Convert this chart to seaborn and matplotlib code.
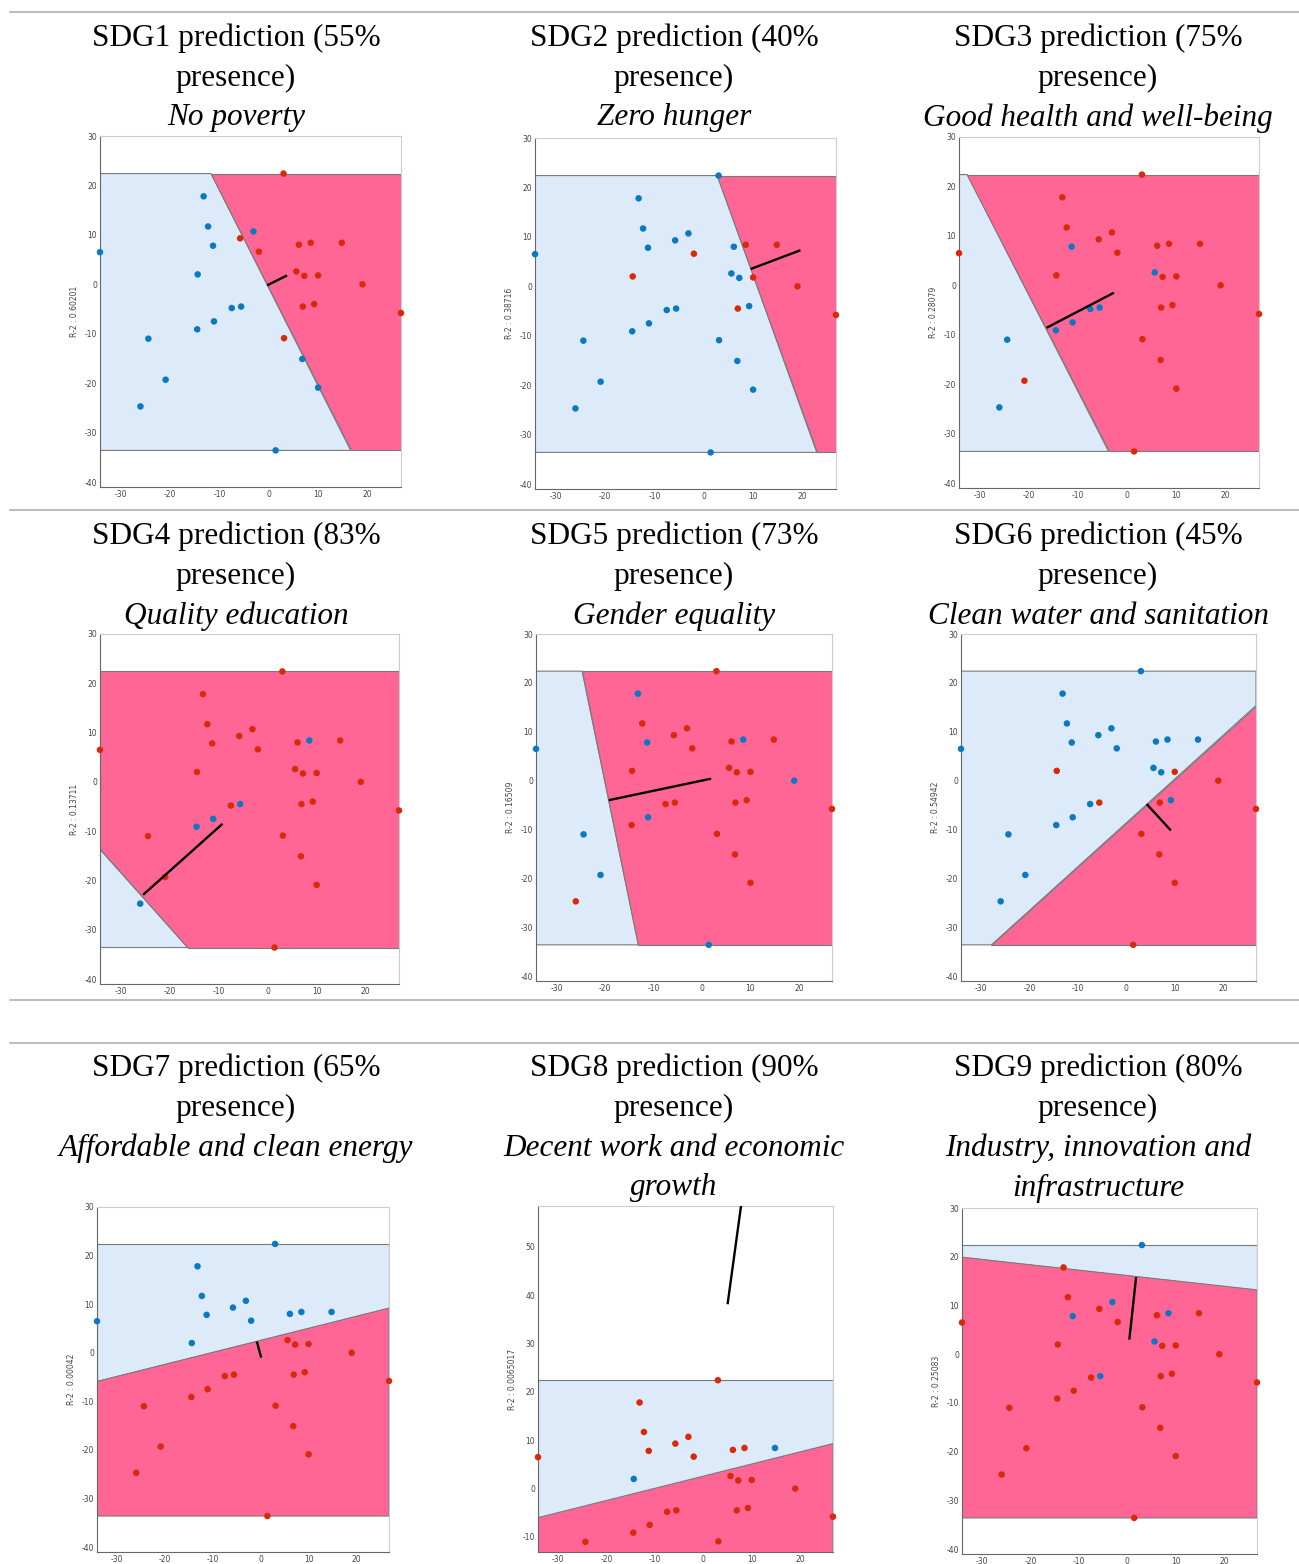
import matplotlib
matplotlib.use("Agg")
import matplotlib.pyplot as plt
import seaborn as sns
import pandas as pd
import numpy as np

sns.set_style("white")
plt.rcParams['font.family'] = ['DejaVu Sans']
plt.rcParams['axes.unicode_minus'] = False

W, H = 1299, 1564

# ---- data -------------------------------------------------------------
point_x = [-34.2, -13.2, -12.3, -11.3, -14.4, -3.1, -5.8, -2.0, 3.0, 6.1,
           8.5, 14.8, 5.6, 7.2, 10.0, 19.0, 6.9, 9.2, 26.8, -5.6,
           -7.5, -11.1, -14.5, -24.4, 3.1, 6.8, 10.0, -20.9, -26.0, 1.4]
point_y = [6.5, 17.8, 11.7, 7.8, 2.0, 10.7, 9.3, 6.6, 22.4, 8.0,
           8.4, 8.4, 2.6, 1.7, 1.8, 0.0, -4.5, -4.0, -5.8, -4.5,
           -4.8, -7.5, -9.1, -11.0, -10.9, -15.1, -20.9, -19.3, -24.7, -33.6]

classes = [
    [0,0,0,0,0,0,1,1,1,1,1,1,1,1,1,1,1,1,1,0,0,0,0,0,1,0,0,0,0,0],
    [0,0,0,0,1,0,0,1,0,0,1,1,0,0,1,1,1,0,1,0,0,0,0,0,0,0,0,0,0,0],
    [1,1,1,0,1,1,1,1,1,1,1,1,0,1,1,1,1,1,1,0,0,0,0,0,1,1,1,1,0,1],
    [1,1,1,1,1,1,1,1,1,1,0,1,1,1,1,1,1,1,1,0,1,0,0,1,1,1,1,1,0,1],
    [0,0,1,0,1,1,1,1,1,1,0,1,1,1,1,0,1,1,1,1,1,0,1,0,1,1,1,0,1,0],
    [0,0,0,0,1,0,0,0,0,0,0,0,0,0,1,1,1,0,1,1,0,0,0,0,1,1,1,0,0,1],
    [0,0,0,0,0,0,0,0,0,0,0,0,1,1,1,1,1,1,1,1,1,1,1,1,1,1,1,1,1,1],
    [1,1,1,1,0,1,1,1,1,1,1,0,1,1,1,1,1,1,1,1,1,1,1,1,1,1,1,1,1,1],
    [1,1,1,0,1,0,1,1,0,1,0,1,0,1,1,1,1,1,1,0,1,1,1,1,1,1,1,1,1,1],
]

boundary_p1 = [(-11.7, 22.4), (2.75, 22.4), (-32.5, 22.4), (-34.2, -13.7), (-24.7, 22.4),
               (-27.9, -33.6), (-34.2, -5.9), (-34.2, -6.0), (-34.2, 19.9)]
boundary_p2 = [(16.6, -33.6), (22.9, -33.6), (-3.8, -33.6), (-16.3, -33.6), (-13.1, -33.6),
               (26.5, 15.1), (26.8, 9.2), (26.8, 9.3), (26.8, 13.2)]
red_ref = [(26, 0), (26, 0), (26, 0), (20, 20), (26, 0), (26, -30), (0, -30), (0, -12), (0, -30)]

normal_p1 = [(-0.3, -0.2), (9.5, 3.5), (-16.4, -8.6), (-25.4, -22.9), (-19.2, -4.0),
             (4.2, -4.8), (-0.8, 2.3), (5.0, 38.1), (0.4, 3.0)]
normal_p2 = [(3.7, 1.8), (19.6, 7.3), (-2.7, -1.5), (-9.2, -8.5), (1.9, 0.4),
             (9.2, -10.2), (0.1, -1.0), (8.0, 60.0), (1.8, 15.8)]

r2_labels = ["R-2 : 0.60201", "R-2 : 0.38716", "R-2 : 0.28079", "R-2 : 0.13711",
             "R-2 : 0.16509", "R-2 : 0.54942", "R-2 : 0.00042", "R-2 : 0.0065017",
             "R-2 : 0.25083"]

title_lines = [
    ["SDG1 prediction (55%", "presence)"],
    ["SDG2 prediction (40%", "presence)"],
    ["SDG3 prediction (75%", "presence)"],
    ["SDG4 prediction (83%", "presence)"],
    ["SDG5 prediction (73%", "presence)"],
    ["SDG6 prediction (45%", "presence)"],
    ["SDG7 prediction (65%", "presence)"],
    ["SDG8 prediction (90%", "presence)"],
    ["SDG9 prediction (80%", "presence)"],
]
goal_lines = [
    ["No poverty"], ["Zero hunger"], ["Good health and well-being"],
    ["Quality education"], ["Gender equality"], ["Clean water and sanitation"],
    ["Affordable and clean energy"], ["Decent work and economic", "growth"],
    ["Industry, innovation and", "infrastructure"],
]

ylims = [(-41, 30)] * 7 + [(-13.1, 58.4)] + [(-41, 30)]
yticks_list = [list(range(-40, 31, 10))] * 7 + [list(range(-10, 51, 10))] + [list(range(-40, 31, 10))]

# ---- layout (pixels) --------------------------------------------------
axes_px = [
    (100, 136, 401, 487), (535, 138, 836, 489), (959, 137, 1259, 488),
    (100, 634, 399, 984), (536, 634, 832, 981), (961, 634, 1256, 981),
    (97, 1207, 389, 1552), (538, 1206, 833, 1552), (962, 1208, 1257, 1554),
]
col_centers = [236, 674, 1098]
row_title_y = [38, 536, 1068]
line_step = 40
hlines_y = [12, 510, 1000, 1043]

PINK = "#FF6696"
LIGHTBLUE = "#DCEAF9"
RED_DOT = "#D82A08"
BLUE_DOT = "#0A78C2"
EDGE = "#7a7a7a"

fig = plt.figure(figsize=(W / 100, H / 100), dpi=100)


def clip_halfplane(poly, p1, p2, sign):
    def f(q):
        return ((p2[0] - p1[0]) * (q[1] - p1[1]) - (p2[1] - p1[1]) * (q[0] - p1[0])) * sign
    out = []
    n = len(poly)
    for i in range(n):
        a, b = poly[i], poly[(i + 1) % n]
        fa, fb = f(a), f(b)
        if fa >= 0:
            out.append(a)
        if (fa >= 0) != (fb >= 0):
            t = fa / (fa - fb)
            out.append((a[0] + t * (b[0] - a[0]), a[1] + t * (b[1] - a[1])))
    return out


xmin, xmax = min(point_x), max(point_x)
ymin, ymax = min(point_y), max(point_y)
rect = [(xmin, ymin), (xmax, ymin), (xmax, ymax), (xmin, ymax)]

for k in range(9):
    l, t, r, b = axes_px[k]
    ax = fig.add_axes([l / W, 1 - b / H, (r - l) / W, (b - t) / H])
    p1, p2 = boundary_p1[k], boundary_p2[k]
    q = red_ref[k]
    s = np.sign((p2[0] - p1[0]) * (q[1] - p1[1]) - (p2[1] - p1[1]) * (q[0] - p1[0]))
    red_poly = clip_halfplane(rect, p1, p2, s)
    blue_poly = clip_halfplane(rect, p1, p2, -s)
    if len(blue_poly) > 2:
        ax.fill([p[0] for p in blue_poly], [p[1] for p in blue_poly],
                facecolor=LIGHTBLUE, edgecolor=EDGE, lw=0.8, zorder=1)
    if len(red_poly) > 2:
        ax.fill([p[0] for p in red_poly], [p[1] for p in red_poly],
                facecolor=PINK, edgecolor=EDGE, lw=0.8, zorder=1)

    df = pd.DataFrame({"x": point_x, "y": point_y,
                       "cls": ["red" if c else "blue" for c in classes[k]]})
    lo, hi = ylims[k]
    df = df[(df["y"] >= lo) & (df["y"] <= hi)]
    sns.scatterplot(data=df, x="x", y="y", hue="cls",
                    palette={"red": RED_DOT, "blue": BLUE_DOT},
                    s=22, edgecolor="none", legend=False, ax=ax,
                    zorder=3, clip_on=False)
    ax.plot([normal_p1[k][0], normal_p2[k][0]], [normal_p1[k][1], normal_p2[k][1]],
            color="black", lw=1.7, zorder=4, solid_capstyle="butt")

    ax.set_xlim(xmin, xmax)
    ax.set_ylim(*ylims[k])
    ax.set_xticks([-30, -20, -10, 0, 10, 20])
    ax.set_yticks(yticks_list[k])
    ax.set_xlabel("")
    ax.set_ylabel(r2_labels[k], fontsize=5.5, color="#444444", labelpad=4)
    ax.tick_params(direction="in", length=2.5, width=0.5, labelsize=5.5,
                   colors="#555555", pad=2)
    ax.tick_params(axis="both", labelcolor="#444444")
    for sp in ["left", "bottom"]:
        ax.spines[sp].set_color("#666666")
        ax.spines[sp].set_linewidth(0.8)
    for sp in ["top", "right"]:
        ax.spines[sp].set_color("#cccccc")
        ax.spines[sp].set_linewidth(0.8)
    ax.set_facecolor("white")

    cx = col_centers[k % 3]
    ty = row_title_y[k // 3]
    lines = [(txt, "normal") for txt in title_lines[k]] + [(txt, "italic") for txt in goal_lines[k]]
    for j, (txt, style) in enumerate(lines):
        fig.text(cx / W, 1 - (ty + j * line_step) / H, txt, ha="center", va="center",
                 fontsize=22.5, family=["Liberation Serif", "DejaVu Serif"],
                 style=style, color="black", zorder=10)

for yy in hlines_y:
    fig.add_artist(plt.Line2D([10 / W, 1.0], [1 - yy / H, 1 - yy / H],
                              color="#bdbdbd", lw=1.5, transform=fig.transFigure))

fig.savefig("out.png", dpi=100, facecolor="white")
